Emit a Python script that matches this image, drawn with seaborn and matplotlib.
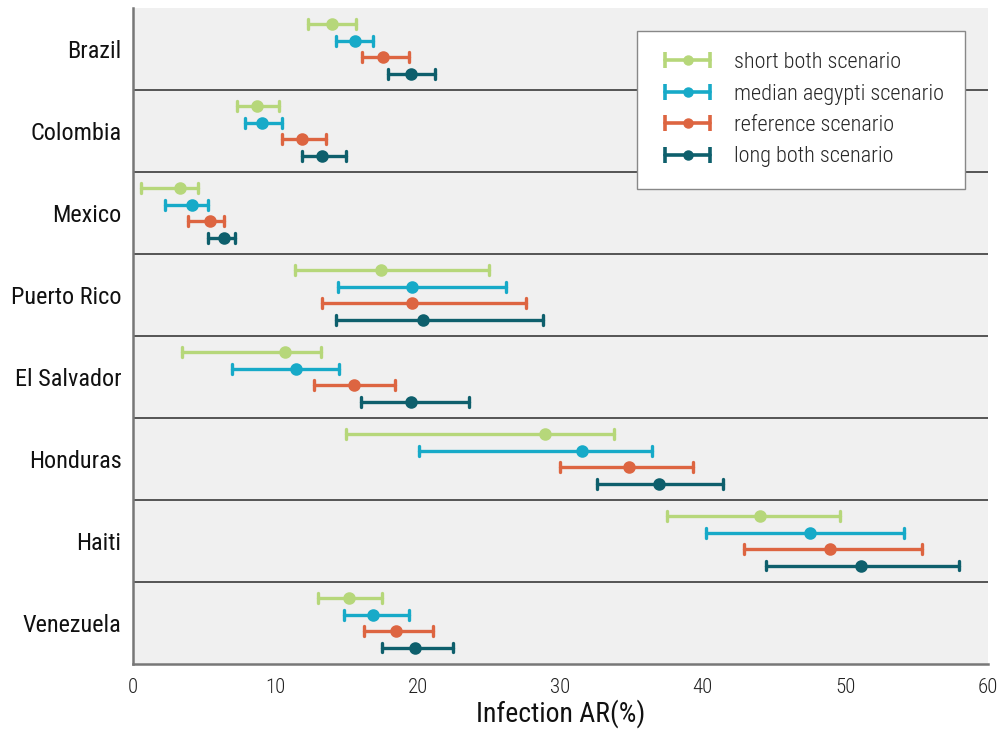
import numpy as np
import pandas as pd
import matplotlib
matplotlib.use("Agg")
import matplotlib.pyplot as plt
from matplotlib import font_manager
from matplotlib.lines import Line2D
from matplotlib.legend_handler import HandlerLine2D, HandlerTuple
import seaborn as sns

# ---------------- data ----------------
countries = ["Brazil", "Colombia", "Mexico", "Puerto Rico",
             "El Salvador", "Honduras", "Haiti", "Venezuela"]
scenarios = ["short both scenario", "median aegypti scenario",
             "reference scenario", "long both scenario"]

short_mid = [14.0, 8.7, 3.3, 17.4, 10.7, 28.9, 44.0, 15.2]
short_lo  = [12.3, 7.3, 0.6, 11.4, 3.5, 15.0, 37.5, 13.0]
short_hi  = [15.7, 10.3, 4.6, 25.0, 13.2, 33.8, 49.6, 17.5]

median_mid = [15.6, 9.1, 4.2, 19.6, 11.5, 31.5, 47.5, 16.9]
median_lo  = [14.3, 7.9, 2.3, 14.4, 7.0, 20.1, 40.2, 14.8]
median_hi  = [16.9, 10.5, 5.3, 26.2, 14.5, 36.4, 54.1, 19.4]

ref_mid = [17.6, 11.9, 5.4, 19.6, 15.5, 34.8, 48.9, 18.5]
ref_lo  = [16.1, 10.5, 3.9, 13.3, 12.7, 30.0, 42.9, 16.2]
ref_hi  = [19.4, 13.6, 6.4, 27.6, 18.4, 39.3, 55.4, 21.1]

long_mid = [19.5, 13.3, 6.4, 20.4, 19.5, 36.9, 51.1, 19.8]
long_lo  = [17.9, 11.9, 5.3, 14.3, 16.0, 32.6, 44.4, 17.5]
long_hi  = [21.2, 15.0, 7.2, 28.8, 23.6, 41.4, 58.0, 22.5]

colors = ["#b6d77a", "#17aac8", "#dd6541", "#0e5f6c"]

series = {
    scenarios[0]: (short_lo, short_mid, short_hi),
    scenarios[1]: (median_lo, median_mid, median_hi),
    scenarios[2]: (ref_lo, ref_mid, ref_hi),
    scenarios[3]: (long_lo, long_mid, long_hi),
}

rows = []
for scen, (lo, mid, hi) in series.items():
    for c, a, b, d in zip(countries, lo, mid, hi):
        for v in (a, b, d):
            rows.append({"country": c, "scenario": scen, "AR": v})
df = pd.DataFrame(rows)

# ---------------- style ----------------
sns.set_style("white")
names = {f.name for f in font_manager.fontManager.ttflist}
if "Roboto Condensed" in names:
    fam = ["Roboto Condensed", "DejaVu Sans"]
else:
    fam = ["Roboto", "DejaVu Sans"]
plt.rcParams["font.family"] = fam

fig = plt.figure(figsize=(10.01, 7.34), dpi=100)
ax = fig.add_axes([0.1324, 0.0954, 0.8546, 0.8937])
ax.set_facecolor("#f0f0f0")

sns.pointplot(
    data=df, x="AR", y="country", hue="scenario",
    order=countries, hue_order=scenarios, palette=colors,
    estimator="median", errorbar=lambda x: (x.min(), x.max()),
    dodge=0.6, orient="h", capsize=0.12, linestyle="none",
    markers="o", markersize=7, err_kws={"linewidth": 2.4},
    legend=False, ax=ax,
)

# band separators
for i in range(len(countries) - 1):
    ax.axhline(i + 0.5, color="#3a3a3a", linewidth=1.2, zorder=0.5)

ax.set_ylim(len(countries) - 0.5, -0.5)
ax.set_xlim(0, 60)
ax.set_xticks(np.arange(0, 61, 10))
ax.set_ylabel("")
ax.set_xlabel("Infection AR(%)", fontsize=20, color="#111111", labelpad=2)

for s in ["top", "right"]:
    ax.spines[s].set_visible(False)
for s in ["left", "bottom"]:
    ax.spines[s].set_color("#777777")
    ax.spines[s].set_linewidth(1.8)

ax.tick_params(axis="x", direction="out", length=6, width=1.2, color="#666666",
               labelsize=15, labelcolor="#222222", pad=4)
ax.tick_params(axis="y", length=0, labelsize=17.5, labelcolor="#111111", pad=8)
for t in ax.get_xticklabels():
    t.set_fontweight("light")

# legend with error-bar-like handles
handles = []
hmap = {}
for col in colors:
    line = Line2D([], [], color=col, linewidth=2.6, marker="|",
                  markersize=11, markeredgewidth=2.6)
    dot = Line2D([], [], color=col, linestyle="none", marker="o", markersize=6.5)
    hmap[line] = HandlerLine2D(numpoints=2)
    hmap[dot] = HandlerLine2D(numpoints=1)
    handles.append((line, dot))
hmap[tuple] = HandlerTuple(ndivide=1, pad=0)
leg = ax.legend(handles, scenarios, handler_map=hmap, loc="upper right",
                bbox_to_anchor=(0.973, 0.965), borderaxespad=0,
                frameon=True, fancybox=False, framealpha=1,
                edgecolor="#888888", facecolor="white",
                prop={"size": 16, "weight": "light"},
                handlelength=2.65, handletextpad=0.75, labelspacing=0.47,
                borderpad=0.95)
leg.get_frame().set_linewidth(1.0)

fig.savefig("out.png", dpi=100)
